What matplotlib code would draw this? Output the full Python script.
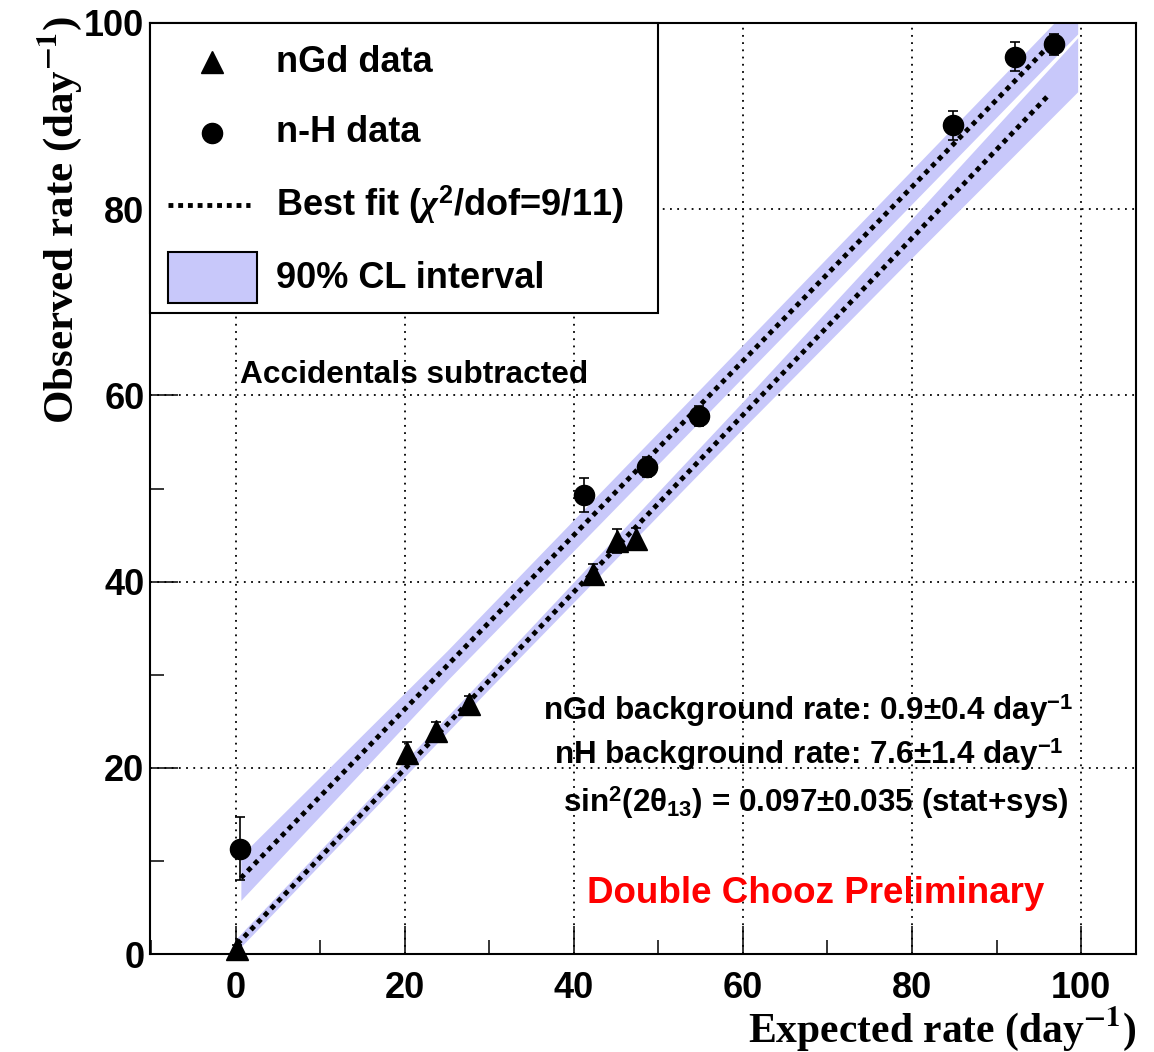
import matplotlib
matplotlib.use("Agg")
import matplotlib.pyplot as plt
from matplotlib.patches import Rectangle
from matplotlib.ticker import MultipleLocator
import numpy as np

plt.rcParams['font.family'] = ['Liberation Sans', 'DejaVu Sans']
plt.rcParams['font.weight'] = 'bold'
plt.rcParams['mathtext.fontset'] = 'custom'
plt.rcParams['mathtext.rm'] = 'Liberation Sans:bold'
plt.rcParams['mathtext.bf'] = 'Liberation Sans:bold'
plt.rcParams['mathtext.it'] = 'Liberation Serif:italic'

# ---- measured rates (day^-1) ----
gd_expected = [0.2, 20.2, 23.7, 27.6, 42.3, 45.1, 47.4]
gd_observed = [0.5, 21.6, 24.0, 26.8, 40.8, 44.4, 44.6]
gd_error = [0.5, 1.2, 0.9, 0.9, 1.1, 1.3, 1.2]

h_expected = [0.5, 41.2, 48.6, 54.8, 84.8, 92.2, 96.8]
h_observed = [11.3, 49.3, 52.3, 57.8, 89.0, 96.4, 97.7]
h_error = [3.4, 1.8, 1.1, 1.1, 1.6, 1.6, 1.1]

# ---- best fit lines: observed = background + slope * expected ----
gd_background, gd_slope = 0.9, 0.950
h_background, h_slope = 7.6, 0.935
gd_line_range = [0.2, 96.0]
h_line_range = [0.6, 96.5]

# ---- 90% CL interval half widths along expected rate ----
gd_band_x = [0.2, 30, 60, 80, 99.6]
gd_band_half = [0.7, 0.9, 1.45, 2.1, 2.9]
h_band_x = [0.6, 25, 50, 75, 99.6]
h_band_half = [2.4, 1.6, 1.7, 1.8, 1.9]

band_color = '#c8c8fa'

fig = plt.figure(figsize=(11.54, 10.52), dpi=100)
ax = fig.add_axes([150 / 1154, 98 / 1052, 986 / 1154, 931 / 1052])
ax.set_xlim(-10.15, 106.5)
ax.set_ylim(0, 100)
ax.set_axisbelow(True)

# confidence bands
for bx, bh, b0, s in [(gd_band_x, gd_band_half, gd_background, gd_slope),
                      (h_band_x, h_band_half, h_background, h_slope)]:
    bx = np.array(bx)
    bh = np.array(bh)
    centre = b0 + s * bx
    ax.fill_between(bx, centre - bh, centre + bh, color=band_color, lw=0, zorder=1)

# best fit lines
fit_lw = 3.5
dot_style = (0, (1.0, 1.0))
for rng, b0, s in [(gd_line_range, gd_background, gd_slope),
                   (h_line_range, h_background, h_slope)]:
    xr = np.array(rng)
    ax.plot(xr, b0 + s * xr, color='black', lw=fit_lw, linestyle=dot_style,
            dash_capstyle='butt', zorder=2)

# data points
ax.errorbar(gd_expected, gd_observed, yerr=gd_error, fmt='none', ecolor='black',
            elinewidth=1.2, capsize=3.6, capthick=1.2, zorder=3)
ax.errorbar(h_expected, h_observed, yerr=h_error, fmt='none', ecolor='black',
            elinewidth=1.2, capsize=3.6, capthick=1.2, zorder=3)
ax.plot(gd_expected, gd_observed, linestyle='none', marker='^', ms=16,
        color='black', zorder=4, clip_on=False)
ax.plot(h_expected, h_observed, linestyle='none', marker='o', ms=14.5,
        color='black', zorder=4)

# axes styling
ax.grid(True, which='major', color='black', linestyle=(0, (1, 3)), linewidth=1.3)
ax.xaxis.set_major_locator(MultipleLocator(20))
ax.xaxis.set_minor_locator(MultipleLocator(10))
ax.yaxis.set_major_locator(MultipleLocator(20))
ax.yaxis.set_minor_locator(MultipleLocator(10))
ax.tick_params(which='both', direction='in', top=False, right=False, width=1.1)
ax.tick_params(which='major', length=20)
ax.tick_params(which='minor', length=10)
ax.tick_params(axis='x', labelsize=26, pad=12)
ax.tick_params(axis='y', labelsize=26, pad=4)
for lab in ax.get_xticklabels() + ax.get_yticklabels():
    lab.set_fontweight('bold')
for sp in ax.spines.values():
    sp.set_linewidth(1.5)

ax.set_xlabel(r'Expected rate (day$^{\mathbf{-1}}$)', family='Liberation Serif',
              fontsize=30, fontweight='bold', loc='right', math_fontfamily='stix')
ax.set_ylabel(r'Observed rate (day$^{\mathbf{-1}}$)', family='Liberation Serif',
              fontsize=31, fontweight='bold', loc='top', math_fontfamily='stix')
ax.xaxis.label.set_va('center')
ax.yaxis.label.set_va('center')
ax.xaxis.set_label_coords(1.0, -0.0805)
ax.yaxis.set_label_coords(-0.091, 1.008)

# legend box
tr = ax.transAxes
ax.add_patch(Rectangle((0, 0.6885), 0.515, 0.3115, transform=tr, facecolor='white',
                       edgecolor='black', lw=1.5, zorder=5, clip_on=False))
ax.plot([0.0629], [0.958], transform=tr, marker='^', ms=16, color='black',
        zorder=6, clip_on=False)
ax.plot([0.0629], [0.882], transform=tr, marker='o', ms=14.5, color='black',
        zorder=6, clip_on=False)
ax.plot([0.0183, 0.1014], [0.8045, 0.8045], transform=tr, color='black', lw=fit_lw,
        linestyle=dot_style, dash_capstyle='butt', zorder=6, clip_on=False)
ax.add_patch(Rectangle((0.0183, 0.699), 0.0902, 0.055, transform=tr,
                       facecolor=band_color, edgecolor='black', lw=1.5, zorder=6))
legend_labels = ['nGd data', 'n-H data', r'Best fit ($\chi^{2}$/dof=9/11)', '90% CL interval']
for yy, lab in zip([0.958, 0.882, 0.8045, 0.726], legend_labels):
    ax.text(0.1278, yy, lab, transform=tr, fontsize=26, fontweight='bold',
            va='center', ha='left', zorder=7)

# annotations
ax.text(0.0913, 0.622, 'Accidentals subtracted', transform=tr, fontsize=22.8,
        fontweight='bold', va='center', ha='left')
ax.text(0.668, 0.262, r'nGd background rate: 0.9±0.4 day$^{-1}$', transform=tr,
        fontsize=22.6, fontweight='bold', va='center', ha='center')
ax.text(0.668, 0.2137, r'nH background rate: 7.6±1.4 day$^{-1}$', transform=tr,
        fontsize=22.6, fontweight='bold', va='center', ha='center')
ax.text(0.675, 0.163, r'sin$^{2}$(2θ$_{13}$) = 0.097±0.035 (stat+sys)', transform=tr,
        fontsize=22.6, fontweight='bold', va='center', ha='center')
ax.text(0.675, 0.0655, 'Double Chooz Preliminary', transform=tr, fontsize=26.5,
        fontweight='bold', color='#ff0000', va='center', ha='center')

fig.savefig('out.png', dpi=100)
